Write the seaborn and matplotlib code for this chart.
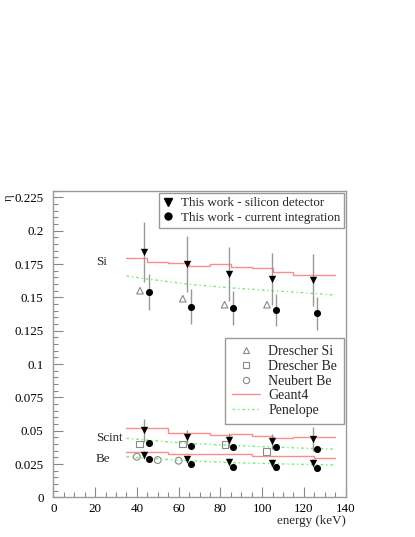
import numpy as np
import matplotlib
matplotlib.use("Agg")
import matplotlib.pyplot as plt
import seaborn as sns
import pandas as pd
from matplotlib.lines import Line2D
from matplotlib.ticker import FixedLocator, MultipleLocator

# energies (keV) of the two measurement methods
e_det = [43.5, 64.0, 84.0, 104.5, 124.3]
e_cur = [45.8, 66.0, 86.0, 106.5, 126.2]

# this work - silicon detector
si_det = [0.184, 0.175, 0.1676, 0.1640, 0.1632]
si_det_err = [0.0225, 0.021, 0.020, 0.0195, 0.0195]
scint_det = [0.0503, 0.0450, 0.0428, 0.0420, 0.0435]
scint_det_err = [0.0088, 0.0055, 0.0052, 0.0054, 0.0090]
be_det = [0.0318, 0.0286, 0.0268, 0.0260, 0.0256]
be_det_err = [0.003, 0.003, 0.003, 0.003, 0.003]

# this work - current integration
si_cur = [0.154, 0.143, 0.142, 0.1408, 0.138]
si_cur_err = [0.0135, 0.013, 0.013, 0.012, 0.0125]
scint_cur = [0.0406, 0.0388, 0.0380, 0.0376, 0.0360]
be_cur = [0.0288, 0.0254, 0.0230, 0.0226, 0.0218]

# literature
drescher_si_e = [41.5, 62.0, 82.0, 102.3]
drescher_si = [0.155, 0.149, 0.1445, 0.1445]
drescher_be_e = [41.2, 62.0, 82.2, 102.2]
drescher_be = [0.0400, 0.0400, 0.0395, 0.0343]
neubert_be_e = [40.0, 50.0, 60.0]
neubert_be = [0.0305, 0.0280, 0.0275]

# simulations: Geant4 histograms (bin edges 35..135) and Penelope curves
g4_edges = [35, 45, 55, 65, 75, 85, 95, 105, 115, 125, 135]
g4_si = [0.1793, 0.1768, 0.1756, 0.1738, 0.1748, 0.1730, 0.1718, 0.1688, 0.1668, 0.1668]
g4_scint = [0.0523, 0.0523, 0.0481, 0.0481, 0.0468, 0.0473, 0.0463, 0.0443, 0.0455, 0.0455]
g4_be = [0.0338, 0.0338, 0.0323, 0.0323, 0.0323, 0.0323, 0.0312, 0.0312, 0.0312, 0.0293]
pen_e = [35, 45, 55, 65, 75, 85, 95, 105, 115, 125, 135]
pen_si = [0.1660, 0.1638, 0.1618, 0.1598, 0.1585, 0.1571, 0.1561, 0.1550, 0.1540, 0.1529, 0.1518]
pen_scint = [0.0443, 0.0430, 0.0416, 0.0405, 0.0398, 0.0390, 0.0384, 0.0378, 0.0372, 0.0366, 0.0361]
pen_be = [0.0305, 0.0294, 0.0284, 0.0275, 0.0268, 0.0261, 0.0257, 0.0253, 0.0249, 0.0246, 0.0243]

y_ticks = [0, 0.025, 0.05, 0.075, 0.1, 0.125, 0.15, 0.175, 0.2, 0.225]
y_tick_labels = ["0", "0.025", "0.05", "0.075", "0.1", "0.125", "0.15", "0.175", "0.2", "0.225"]
x_ticks = [0, 20, 40, 60, 80, 100, 120, 140]

sns.set_theme(style="white")
plt.rcParams["font.family"] = ["Liberation Serif", "DejaVu Serif"]

FS = 9.4
W, H = 415, 537
fig = plt.figure(figsize=(W / 100, H / 100), dpi=100)
ax = fig.add_axes([53.3 / W, 1 - 497.4 / H, 292.4 / W, 306.7 / H])

g4_col = "#ff8c8c"
pen_col = "#77ee77"
err_col = "#999999"
lit_col = "#888888"

# Geant4 step histograms
for vals in (g4_si, g4_scint, g4_be):
    df = pd.DataFrame({"e": g4_edges, "eta": vals + [vals[-1]]})
    sns.lineplot(data=df, x="e", y="eta", ax=ax, color=g4_col, lw=1.0,
                 drawstyle="steps-post", estimator=None, sort=False)

# Penelope curves
for vals in (pen_si, pen_scint, pen_be):
    df = pd.DataFrame({"e": pen_e, "eta": vals})
    sns.lineplot(data=df, x="e", y="eta", ax=ax, color=pen_col, lw=1.0,
                 dashes=False, linestyle=(0, (2, 2, 1, 2)), estimator=None)

# error bars
ax.errorbar(e_det, si_det, yerr=si_det_err, fmt="none", ecolor=err_col, elinewidth=1)
ax.errorbar(e_det, scint_det, yerr=scint_det_err, fmt="none", ecolor=err_col, elinewidth=1)
ax.errorbar(e_det, be_det, yerr=be_det_err, fmt="none", ecolor=err_col, elinewidth=1)
ax.errorbar(e_cur, si_cur, yerr=si_cur_err, fmt="none", ecolor=err_col, elinewidth=1)

# literature markers
sns.scatterplot(x=drescher_si_e, y=drescher_si, ax=ax, marker="^", s=22,
                facecolor="none", edgecolor=lit_col, linewidth=0.8)
sns.scatterplot(x=drescher_be_e, y=drescher_be, ax=ax, marker="s", s=24,
                facecolor="none", edgecolor=lit_col, linewidth=0.8)
sns.scatterplot(x=neubert_be_e, y=neubert_be, ax=ax, marker="o", s=24,
                facecolor="none", edgecolor=lit_col, linewidth=0.8)

# this work markers
for vals in (si_det, scint_det, be_det):
    sns.scatterplot(x=e_det, y=vals, ax=ax, marker="v", s=28, color="black",
                    edgecolor="black", linewidth=0, zorder=5)
for vals in (si_cur, scint_cur, be_cur):
    sns.scatterplot(x=e_cur, y=vals, ax=ax, marker="o", s=26, color="black",
                    edgecolor="black", linewidth=0, zorder=5)

ax.text(20.4, 0.1768, "Si", fontsize=FS, va="center", ha="left")
ax.text(20.4, 0.0443, "Scint", fontsize=FS, va="center", ha="left")
ax.text(20.4, 0.0286, "Be", fontsize=FS, va="center", ha="left")

ax.set_xlim(0, 140)
ax.set_ylim(0, 0.23)
ax.yaxis.set_major_locator(FixedLocator(y_ticks))
ax.set_yticklabels(y_tick_labels)
ax.yaxis.set_minor_locator(MultipleLocator(0.005))
ax.set_xticks(x_ticks)
ax.xaxis.set_minor_locator(MultipleLocator(5))
ax.tick_params(which="both", direction="in", color="#888888", labelsize=FS,
               colors="black", left=True, bottom=True)
ax.tick_params(which="major", length=7, width=0.8)
ax.tick_params(which="minor", length=3.5, width=0.8)
ax.tick_params(axis="y", pad=7)
ax.tick_params(axis="x", pad=4)
for sp in ax.spines.values():
    sp.set_color("#999999")
    sp.set_linewidth(1.0)

ax.set_xlabel("energy (keV)", fontsize=FS, loc="right")
ax.xaxis.set_label_coords(1.0, -0.057)
ax.set_ylabel("η", fontsize=FS, loc="top")
ax.yaxis.label.set_va("center")
ax.yaxis.set_label_coords(-0.152, 0.99)

leg_kw = dict(frameon=True, fancybox=False, framealpha=1,
              edgecolor="#999999", borderaxespad=0)

h1 = [Line2D([], [], ls="none", marker="v", color="black", ms=5.5),
      Line2D([], [], ls="none", marker="o", color="black", ms=5)]
leg1 = ax.legend(h1, ["This work - silicon detector", "This work - current integration"],
                 loc="upper right", bbox_to_anchor=(0.994, 0.9915), fontsize=FS,
                 labelspacing=0.18, borderpad=0.3,
                 handlelength=0.8, handletextpad=0.55, **leg_kw)
leg1.get_frame().set_linewidth(1.0)
ax.add_artist(leg1)

h2 = [Line2D([], [], ls="none", marker="^", mfc="none", mec=lit_col, ms=4.5, mew=0.8),
      Line2D([], [], ls="none", marker="s", mfc="none", mec=lit_col, ms=4.5, mew=0.8),
      Line2D([], [], ls="none", marker="o", mfc="none", mec=lit_col, ms=4.5, mew=0.8),
      Line2D([], [], color=g4_col, lw=1),
      Line2D([], [], color=pen_col, lw=1, ls=(0, (2, 2, 1, 2)))]
leg2 = ax.legend(h2, ["Drescher Si", "Drescher Be", "Neubert Be", "Geant4", "Penelope"],
                 loc="upper right", bbox_to_anchor=(0.994, 0.519), fontsize=10,
                 labelspacing=0.12, borderpad=0.5,
                 handlelength=2.0, handletextpad=0.6, **leg_kw)
leg2.get_frame().set_linewidth(1.0)

fig.savefig("out.png", dpi=100)
